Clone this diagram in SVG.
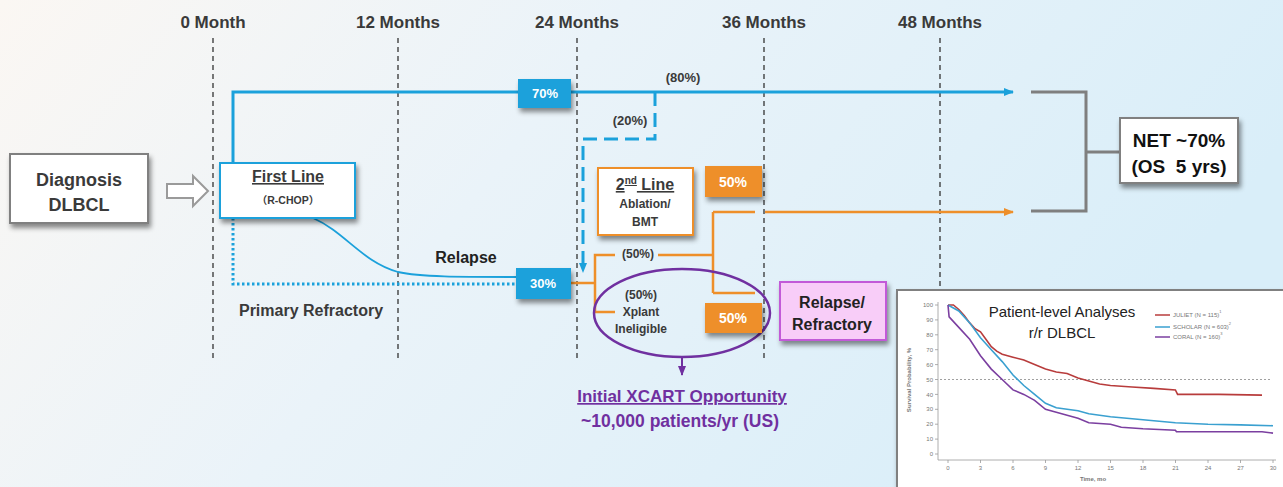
<svg xmlns="http://www.w3.org/2000/svg" width="1283" height="487" viewBox="0 0 1283 487">
<defs>
<linearGradient id="bg" x1="0" y1="0" x2="1" y2="0.3">
<stop offset="0" stop-color="#fbf7f3"/>
<stop offset="0.45" stop-color="#eaf3f9"/>
<stop offset="1" stop-color="#d9eef9"/>
</linearGradient>
<filter id="sh" x="-20%" y="-20%" width="150%" height="160%">
<feDropShadow dx="2" dy="4" stdDeviation="2.5" flood-color="#000" flood-opacity="0.45"/>
</filter>
<marker id="ab" markerWidth="10" markerHeight="8" refX="9" refY="4" orient="auto" markerUnits="userSpaceOnUse">
<path d="M0,0 L10,4 L0,8 Z" fill="#1ba1db"/>
</marker>
<marker id="ao" markerWidth="10" markerHeight="8" refX="9" refY="4" orient="auto" markerUnits="userSpaceOnUse">
<path d="M0,0 L10,4 L0,8 Z" fill="#ee8f2a"/>
</marker>
<marker id="ap" markerWidth="10" markerHeight="8" refX="9" refY="4" orient="auto" markerUnits="userSpaceOnUse">
<path d="M0,0 L10,4 L0,8 Z" fill="#7030a0"/>
</marker>
<style>
text{font-family:"Liberation Sans","Noto Sans CJK SC",sans-serif;font-weight:bold;text-anchor:middle;}
.hdr{font-size:17px;fill:#3a3a3a;}
.vline{stroke:#333;stroke-width:1.3;stroke-dasharray:5,4;fill:none;}
.blue{stroke:#1ba1db;fill:none;}
.orange{stroke:#ee8f2a;stroke-width:2.5;fill:none;}
.gray{stroke:#7f7f7f;stroke-width:3;fill:none;}
.dark{fill:#3a3a3a;}
.wt{fill:#fff;}
.sm{font-size:12px;fill:#3a3a3a;}
.ax{font-family:"Liberation Sans",sans-serif;font-weight:normal;font-size:6px;fill:#777;}
.ax.end{text-anchor:end;}
.ax.start{text-anchor:start;}
</style>
</defs>
<rect x="0" y="0" width="1283" height="487" fill="url(#bg)"/>

<g id="timeline">
<text class="hdr" x="213" y="28">0 Month</text>
<text class="hdr" x="398" y="28">12 Months</text>
<text class="hdr" x="577" y="28">24 Months</text>
<text class="hdr" x="764" y="28">36 Months</text>
<text class="hdr" x="940" y="28">48 Months</text>
<line class="vline" x1="213" y1="38" x2="213" y2="358"/>
<line class="vline" x1="398" y1="38" x2="398" y2="358"/>
<line class="vline" x1="577" y1="38" x2="577" y2="358"/>
<line class="vline" x1="764" y1="38" x2="764" y2="358"/>
<line class="vline" x1="940" y1="38" x2="940" y2="358"/>
</g>

<g id="connectors">
<path d="M167,184 H193 V176 L208,191 L193,206 V198 H167 Z" fill="#fff" stroke="#9a9a9a" stroke-width="2"/>
<path class="blue" stroke-width="3" d="M233,165 V92 H1013" marker-end="url(#ab)"/>
<path class="blue" stroke-width="3" stroke-dasharray="14,7" d="M655,92 V139 H583 V272" marker-end="url(#ab)"/>
<path class="blue" stroke-width="1.8" d="M313,218 C345,232 362,262 398,272 C420,277 460,277 516,277"/>
<path class="blue" stroke-width="3" stroke-dasharray="2.5,2.5" d="M233,218 V284 H516"/>
<path class="orange" d="M571,283 H595 M615,255 H595 V312 H615 M658,255 H713 M713,212 V293 M713,212 H755 M713,293 H755"/>
<path class="orange" d="M765,212 H1013" marker-end="url(#ao)"/>
<path class="gray" d="M1031,92 H1086 V211 H1031 M1086,152 H1121"/>
<path d="M682,357 V375" stroke="#7030a0" stroke-width="2" fill="none" marker-end="url(#ap)"/>
</g>

<g id="diagnosis">
<rect x="10" y="154" width="138" height="69" fill="#fff" stroke="#808080" stroke-width="2" filter="url(#sh)"/>
<text x="79" y="186" font-size="18" class="dark">Diagnosis</text>
<text x="79" y="211" font-size="18" class="dark">DLBCL</text>
</g>

<g id="first-line">
<rect x="220" y="163" width="135" height="55" fill="#fff" stroke="#1ba1db" stroke-width="2" filter="url(#sh)"/>
<text x="288" y="182" font-size="16" class="dark" text-decoration="underline">First Line</text>
<text x="288" y="204" font-size="10.5" class="dark">（R-CHOP）</text>
</g>

<g id="p70">
<rect x="518" y="79" width="53" height="29" fill="#1ba1db" filter="url(#sh)"/>
<text x="545" y="98" font-size="13" class="wt">70%</text>
</g>
<g id="p80"><text x="683" y="82" font-size="13" class="dark">(80%)</text></g>
<g id="p20"><text x="630" y="125" font-size="13" class="dark">(20%)</text></g>

<g id="relapse-label"><text x="466" y="263" font-size="16" fill="#222">Relapse</text></g>
<g id="primary-refractory"><text x="311" y="316" font-size="16" class="dark">Primary Refractory</text></g>

<g id="p30">
<rect x="516" y="268" width="55" height="31" fill="#1ba1db" filter="url(#sh)"/>
<text x="543" y="288" font-size="13" class="wt">30%</text>
</g>

<g id="second-line">
<rect x="598" y="168" width="95" height="67" fill="#fff" stroke="#ee8f2a" stroke-width="2" filter="url(#sh)"/>
<text x="645" y="190" font-size="16" class="dark" text-decoration="underline">2<tspan font-size="10" dy="-6">nd</tspan><tspan dy="6"> Line</tspan></text>
<text x="645" y="208" class="sm">Ablation/</text>
<text x="645" y="226" class="sm">BMT</text>
</g>

<g id="p50-top"><text x="638" y="258" class="sm">(50%)</text></g>

<g id="p50a">
<rect x="705" y="166" width="57" height="31" fill="#ee8f2a" filter="url(#sh)"/>
<text x="733" y="187" font-size="14" class="wt">50%</text>
</g>

<g id="xplant">
<ellipse cx="682" cy="313" rx="88" ry="44" fill="none" stroke="#7030a0" stroke-width="2.5"/>
<text x="641" y="299" class="sm">(50%)</text>
<text x="641" y="316" class="sm">Xplant</text>
<text x="641" y="333" class="sm">Ineligible</text>
</g>

<g id="p50b">
<rect x="705" y="303" width="57" height="30" fill="#ee8f2a" filter="url(#sh)"/>
<text x="733" y="323" font-size="14" class="wt">50%</text>
</g>

<g id="relapse-refractory">
<rect x="780" y="282" width="106" height="58" fill="#f8cdf8" stroke="#c25ad8" stroke-width="2" filter="url(#sh)"/>
<text x="832" y="308" font-size="16" fill="#222">Relapse/</text>
<text x="832" y="330" font-size="16" fill="#222">Refractory</text>
</g>

<g id="xcart">
<text x="682" y="402" font-size="17" fill="#7030a0" text-decoration="underline">Initial XCART Opportunity</text>
<text x="680" y="427" font-size="17.5" fill="#7030a0">~10,000 patients/yr (US)</text>
</g>

<g id="net">
<rect x="1120" y="118" width="118" height="65" fill="#fff" stroke="#808080" stroke-width="2" filter="url(#sh)"/>
<text x="1179" y="147" font-size="19" fill="#111">NET ~70%</text>
<text x="1179" y="173" font-size="19" fill="#111">(OS&#160; 5 yrs)</text>
</g>

<g id="inset-chart">
<rect x="897" y="290" width="390" height="205" fill="#fff" stroke="#808080" stroke-width="2" filter="url(#sh)"/>
<path d="M938,302 V460 H1276" stroke="#999" stroke-width="0.8" fill="none"/>
<g stroke="#999" stroke-width="0.8">
<line x1="935" y1="305" x2="938" y2="305"/><line x1="935" y1="319.9" x2="938" y2="319.9"/><line x1="935" y1="334.8" x2="938" y2="334.8"/><line x1="935" y1="349.7" x2="938" y2="349.7"/><line x1="935" y1="364.6" x2="938" y2="364.6"/><line x1="935" y1="379.5" x2="938" y2="379.5"/><line x1="935" y1="394.4" x2="938" y2="394.4"/><line x1="935" y1="409.3" x2="938" y2="409.3"/><line x1="935" y1="424.2" x2="938" y2="424.2"/><line x1="935" y1="439.1" x2="938" y2="439.1"/><line x1="935" y1="454" x2="938" y2="454"/>
<line x1="948" y1="460" x2="948" y2="463"/><line x1="980.5" y1="460" x2="980.5" y2="463"/><line x1="1013" y1="460" x2="1013" y2="463"/><line x1="1045.5" y1="460" x2="1045.5" y2="463"/><line x1="1078" y1="460" x2="1078" y2="463"/><line x1="1110.5" y1="460" x2="1110.5" y2="463"/><line x1="1143" y1="460" x2="1143" y2="463"/><line x1="1175.5" y1="460" x2="1175.5" y2="463"/><line x1="1208" y1="460" x2="1208" y2="463"/><line x1="1240.5" y1="460" x2="1240.5" y2="463"/><line x1="1273" y1="460" x2="1273" y2="463"/>
</g>
<g>
<text class="ax end" x="933" y="307">100</text><text class="ax end" x="933" y="322">90</text><text class="ax end" x="933" y="337">80</text><text class="ax end" x="933" y="352">70</text><text class="ax end" x="933" y="367">60</text><text class="ax end" x="933" y="382">50</text><text class="ax end" x="933" y="397">40</text><text class="ax end" x="933" y="411">30</text><text class="ax end" x="933" y="426">20</text><text class="ax end" x="933" y="441">10</text><text class="ax end" x="933" y="456">0</text>
</g>
<g>
<text class="ax" x="948" y="470">0</text><text class="ax" x="980.5" y="470">3</text><text class="ax" x="1013" y="470">6</text><text class="ax" x="1045.5" y="470">9</text><text class="ax" x="1078" y="470">12</text><text class="ax" x="1110.5" y="470">15</text><text class="ax" x="1143" y="470">18</text><text class="ax" x="1175.5" y="470">21</text><text class="ax" x="1208" y="470">24</text><text class="ax" x="1240.5" y="470">27</text><text class="ax" x="1273" y="470">30</text>
<text class="ax" x="1093" y="481" style="font-weight:bold">Time, mo</text>
<text class="ax" transform="translate(911,380) rotate(-90)" style="font-weight:bold">Survival Probability, %</text>
</g>
<line x1="940" y1="379.5" x2="1272" y2="379.5" stroke="#888" stroke-width="0.8" stroke-dasharray="2,2"/>
<polyline fill="none" stroke="#b83c3c" stroke-width="1.6" points="948,305 953.4,305 958.8,309.5 964.2,315.4 969.7,322.9 975.1,328.8 980.5,331.8 985.9,339.3 991.3,346.7 996.7,351.2 1002.2,354.2 1013,357.2 1023.8,360.1 1034.6,364.6 1045.5,369.1 1056.3,372 1067.1,373.5 1078,378 1088.8,381 1099.6,384 1110.5,385.5 1132.1,387 1153.8,388.4 1175.4,389.9 1177.6,394.4 1218.8,394.4 1262,395.1"/>
<polyline fill="none" stroke="#3aa0d0" stroke-width="1.6" points="948,305 958.8,311 969.7,322.9 980.5,337.8 991.3,349.7 1002.2,361.6 1013,375 1023.8,385.5 1034.6,394.4 1045.5,403.3 1056.3,407.8 1067.1,409.3 1078,410.8 1088.8,413.8 1099.6,415.3 1110.5,416.8 1143,419.7 1175.4,422.7 1208,424.2 1240.4,424.9 1273,425.7"/>
<polyline fill="none" stroke="#7b3fa0" stroke-width="1.6" points="948,305 949.1,316.9 958.8,327.4 969.7,339.3 980.5,355.7 991.3,369.1 1002.2,379.5 1013,389.9 1023.8,394.4 1034.6,400.4 1045.5,409.3 1056.3,412.3 1067.1,415.3 1078,418.2 1088.8,422.7 1110.5,424.2 1121.3,427.2 1143,428.7 1175.4,430.2 1176.5,431.7 1262,431.7 1273,433.1"/>
<text x="1062" y="317" font-size="15" style="font-weight:normal" fill="#222">Patient-level Analyses</text>
<text x="1062" y="338" font-size="15" style="font-weight:normal" fill="#222">r/r DLBCL</text>
<line x1="1155" y1="315" x2="1170" y2="315" stroke="#b83c3c" stroke-width="1.5"/>
<line x1="1155" y1="327" x2="1170" y2="327" stroke="#3aa0d0" stroke-width="1.5"/>
<line x1="1155" y1="337" x2="1170" y2="337" stroke="#7b3fa0" stroke-width="1.5"/>
<text class="ax start" x="1173" y="317">JULIET (N = 115)<tspan dy="-4" font-size="4">1</tspan></text>
<text class="ax start" x="1173" y="329">SCHOLAR (N = 603)<tspan dy="-4" font-size="4">2</tspan></text>
<text class="ax start" x="1173" y="339">CORAL (N = 160)<tspan dy="-4" font-size="4">3</tspan></text>
</g>
</svg>
